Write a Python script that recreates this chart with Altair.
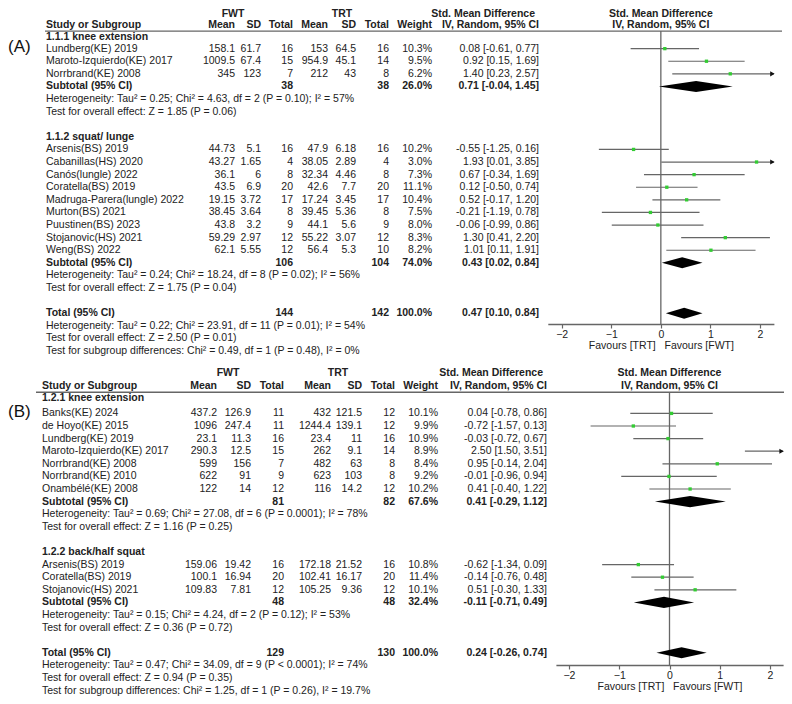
import altair as alt
import pandas as pd

FONT = "Liberation Sans"
FS = 10.5
TXT = "#222222"
LINE = "#666666"
GREEN = "#33cc33"

# ---------------- Panel A data ----------------
A1_label = "1.1.1 knee extension"
A1_study = ["Lundberg(KE) 2019", "Maroto-Izquierdo(KE) 2017", "Norrbrand(KE) 2008"]
A1_fwt_mean = [158.1, 1009.5, 345]
A1_fwt_sd = [61.7, 67.4, 123]
A1_fwt_n = [16, 15, 7]
A1_trt_mean = [153, 954.9, 212]
A1_trt_sd = [64.5, 45.1, 43]
A1_trt_n = [16, 14, 8]
A1_weight = [10.3, 9.5, 6.2]
A1_smd = [0.08, 0.92, 1.40]
A1_lo = [-0.61, 0.15, 0.23]
A1_hi = [0.77, 1.69, 2.57]

A2_label = "1.1.2 squat/ lunge"
A2_study = ["Arsenis(BS) 2019", "Cabanillas(HS) 2020", "Canós(lungle) 2022", "Coratella(BS) 2019",
            "Madruga-Parera(lungle) 2022", "Murton(BS) 2021", "Puustinen(BS) 2023",
            "Stojanovic(HS) 2021", "Weng(BS) 2022"]
A2_fwt_mean = [44.73, 43.27, 36.1, 43.5, 19.15, 38.45, 43.8, 59.29, 62.1]
A2_fwt_sd = [5.1, 1.65, 6, 6.9, 3.72, 3.64, 3.2, 2.97, 5.55]
A2_fwt_n = [16, 4, 8, 20, 17, 8, 9, 12, 12]
A2_trt_mean = [47.9, 38.05, 32.34, 42.6, 17.24, 39.45, 44.1, 55.22, 56.4]
A2_trt_sd = [6.18, 2.89, 4.46, 7.7, 3.45, 5.36, 5.6, 3.07, 5.3]
A2_trt_n = [16, 4, 8, 20, 17, 8, 9, 12, 10]
A2_weight = [10.2, 3.0, 7.3, 11.1, 10.4, 7.5, 8.0, 8.3, 8.2]
A2_smd = [-0.55, 1.93, 0.67, 0.12, 0.52, -0.21, -0.06, 1.30, 1.01]
A2_lo = [-1.25, 0.01, -0.34, -0.50, -0.17, -1.19, -0.99, 0.41, 0.11]
A2_hi = [0.16, 3.85, 1.69, 0.74, 1.20, 0.78, 0.86, 2.20, 1.91]

A_sub_fwt_n = [38, 106]
A_sub_trt_n = [38, 104]
A_sub_weight = [26.0, 74.0]
A_sub_smd = [0.71, 0.43]
A_sub_lo = [-0.04, 0.02]
A_sub_hi = [1.45, 0.84]
A_sub_het = ["Heterogeneity: Tau² = 0.25; Chi² = 4.63, df = 2 (P = 0.10); I² = 57%",
             "Heterogeneity: Tau² = 0.24; Chi² = 18.24, df = 8 (P = 0.02); I² = 56%"]
A_sub_z = ["Test for overall effect: Z = 1.85 (P = 0.06)",
           "Test for overall effect: Z = 1.75 (P = 0.04)"]
A_tot_n = [144, 142]
A_tot_smd = [0.47, 0.10, 0.84]
A_tot_notes = ["Heterogeneity: Tau² = 0.22; Chi² = 23.91, df = 11 (P = 0.01); I² = 54%",
               "Test for overall effect: Z = 2.50 (P = 0.01)",
               "Test for subgroup differences: Chi² = 0.49, df = 1 (P = 0.48), I² = 0%"]

# ---------------- Panel B data ----------------
B1_label = "1.2.1 knee extension"
B1_study = ["Banks(KE) 2024", "de Hoyo(KE) 2015", "Lundberg(KE) 2019", "Maroto-Izquierdo(KE) 2017",
            "Norrbrand(KE) 2008", "Norrbrand(KE) 2010", "Onambélé(KE) 2008"]
B1_fwt_mean = [437.2, 1096, 23.1, 290.3, 599, 622, 122]
B1_fwt_sd = [126.9, 247.4, 11.3, 12.5, 156, 91, 14]
B1_fwt_n = [11, 11, 16, 15, 7, 9, 12]
B1_trt_mean = [432, 1244.4, 23.4, 262, 482, 623, 116]
B1_trt_sd = [121.5, 139.1, 11, 9.1, 63, 103, 14.2]
B1_trt_n = [12, 12, 16, 14, 8, 8, 12]
B1_weight = [10.1, 9.9, 10.9, 8.9, 8.4, 9.2, 10.2]
B1_smd = [0.04, -0.72, -0.03, 2.50, 0.95, -0.01, 0.41]
B1_lo = [-0.78, -1.57, -0.72, 1.50, -0.14, -0.96, -0.40]
B1_hi = [0.86, 0.13, 0.67, 3.51, 2.04, 0.94, 1.22]

B2_label = "1.2.2 back/half squat"
B2_study = ["Arsenis(BS) 2019", "Coratella(BS) 2019", "Stojanovic(HS) 2021"]
B2_fwt_mean = [159.06, 100.1, 109.83]
B2_fwt_sd = [19.42, 16.94, 7.81]
B2_fwt_n = [16, 20, 12]
B2_trt_mean = [172.18, 102.41, 105.25]
B2_trt_sd = [21.52, 16.17, 9.36]
B2_trt_n = [16, 20, 12]
B2_weight = [10.8, 11.4, 10.1]
B2_smd = [-0.62, -0.14, 0.51]
B2_lo = [-1.34, -0.76, -0.30]
B2_hi = [0.09, 0.48, 1.33]

B_sub_fwt_n = [81, 48]
B_sub_trt_n = [82, 48]
B_sub_weight = [67.6, 32.4]
B_sub_smd = [0.41, -0.11]
B_sub_lo = [-0.29, -0.71]
B_sub_hi = [1.12, 0.49]
B_sub_het = ["Heterogeneity: Tau² = 0.69; Chi² = 27.08, df = 6 (P = 0.0001); I² = 78%",
             "Heterogeneity: Tau² = 0.15; Chi² = 4.24, df = 2 (P = 0.12); I² = 53%"]
B_sub_z = ["Test for overall effect: Z = 1.16 (P = 0.25)",
           "Test for overall effect: Z = 0.36 (P = 0.72)"]
B_tot_n = [129, 130]
B_tot_smd = [0.24, -0.26, 0.74]
B_tot_notes = ["Heterogeneity: Tau² = 0.47; Chi² = 34.09, df = 9 (P < 0.0001); I² = 74%",
               "Test for overall effect: Z = 0.94 (P = 0.35)",
               "Test for subgroup differences: Chi² = 1.25, df = 1 (P = 0.26), I² = 19.7%"]

TICKS = [-2, -1, 0, 1, 2]

# ---------------- helpers ----------------
COLS = ["name", "fm", "fs", "fn", "tm", "ts", "tn", "w", "ci",
        "fwt_hdr", "trt_hdr", "ci_hdr", "plot_hdr"]


def ci_text(e, l, h):
    return f"{e:.2f} [{l:.2f}, {h:.2f}]"


def blank_row(r, bold):
    d = {c: "" for c in COLS}
    d["row"] = r
    d["bold"] = bold
    return d


def build_panel(groups, subs, tot, offset, hdr):
    hdr1_r, hdr2_r, _line_r, head_r = hdr
    rows, studies, diam = [], [], []
    h1 = blank_row(offset + hdr1_r, True)
    h1.update(fwt_hdr="FWT", trt_hdr="TRT", ci_hdr="Std. Mean Difference", plot_hdr="Std. Mean Difference")
    h2 = blank_row(offset + hdr2_r, True)
    h2.update(name="Study or Subgroup", fm="Mean", fs="SD", fn="Total", tm="Mean", ts="SD",
              tn="Total", w="Weight", ci="IV, Random, 95% CI", plot_hdr="IV, Random, 95% CI")
    rows += [h1, h2]

    def add_diamond(r, e, l, h, key):
        for x, dy in ((l, 0.0), (e, 0.44), (h, 0.0)):
            diam.append(dict(g=key, x=x, y=r - dy, y2=r + dy))

    r = 3
    for gi, g in enumerate(groups):
        hr = blank_row(offset + (head_r if gi == 0 else r - 1), True)
        hr["name"] = g["label"]
        rows.append(hr)
        for i in range(len(g["study"])):
            d = blank_row(offset + r, False)
            d.update(name=g["study"][i], fm=str(g["fm"][i]), fs=str(g["fs"][i]), fn=str(g["fn"][i]),
                     tm=str(g["tm"][i]), ts=str(g["ts"][i]), tn=str(g["tn"][i]),
                     w=f"{g['w'][i]:.1f}%", ci=ci_text(g["smd"][i], g["lo"][i], g["hi"][i]))
            rows.append(d)
            studies.append(dict(row=offset + r, smd=g["smd"][i], lo=g["lo"][i], hi=g["hi"][i]))
            r += 1
        d = blank_row(offset + r, True)
        d.update(name="Subtotal (95% CI)", fn=str(subs["fn"][gi]), tn=str(subs["tn"][gi]),
                 w=f"{subs['w'][gi]:.1f}%", ci=ci_text(subs["smd"][gi], subs["lo"][gi], subs["hi"][gi]))
        rows.append(d)
        add_diamond(offset + r, subs["smd"][gi], subs["lo"][gi], subs["hi"][gi], f"s{gi}")
        for k, t in enumerate((subs["het"][gi], subs["z"][gi])):
            d = blank_row(offset + r + 1 + k, False)
            d["name"] = t
            rows.append(d)
        r += 5
    r -= 1
    d = blank_row(offset + r, True)
    d.update(name="Total (95% CI)", fn=str(tot["n"][0]), tn=str(tot["n"][1]), w="100.0%",
             ci=ci_text(*tot["smd"]))
    rows.append(d)
    add_diamond(offset + r, tot["smd"][0], tot["smd"][1], tot["smd"][2], "t")
    for k, t in enumerate(tot["notes"]):
        d = blank_row(offset + r + 1 + k, False)
        d["name"] = t
        rows.append(d)
    return pd.DataFrame(rows), pd.DataFrame(studies), pd.DataFrame(diam)


def grp(label, study, fm, fs, fn, tm, ts, tn, w, smd, lo, hi):
    return dict(label=label, study=study, fm=fm, fs=fs, fn=fn, tm=tm, ts=ts, tn=tn, w=w,
                smd=smd, lo=lo, hi=hi)


A_groups = [grp(A1_label, A1_study, A1_fwt_mean, A1_fwt_sd, A1_fwt_n, A1_trt_mean, A1_trt_sd, A1_trt_n,
                A1_weight, A1_smd, A1_lo, A1_hi),
            grp(A2_label, A2_study, A2_fwt_mean, A2_fwt_sd, A2_fwt_n, A2_trt_mean, A2_trt_sd, A2_trt_n,
                A2_weight, A2_smd, A2_lo, A2_hi)]
A_subs = dict(fn=A_sub_fwt_n, tn=A_sub_trt_n, w=A_sub_weight, smd=A_sub_smd, lo=A_sub_lo, hi=A_sub_hi,
              het=A_sub_het, z=A_sub_z)
A_tot = dict(n=A_tot_n, smd=A_tot_smd, notes=A_tot_notes)

B_groups = [grp(B1_label, B1_study, B1_fwt_mean, B1_fwt_sd, B1_fwt_n, B1_trt_mean, B1_trt_sd, B1_trt_n,
                B1_weight, B1_smd, B1_lo, B1_hi),
            grp(B2_label, B2_study, B2_fwt_mean, B2_fwt_sd, B2_fwt_n, B2_trt_mean, B2_trt_sd, B2_trt_n,
                B2_weight, B2_smd, B2_lo, B2_hi)]
B_subs = dict(fn=B_sub_fwt_n, tn=B_sub_trt_n, w=B_sub_weight, smd=B_sub_smd, lo=B_sub_lo, hi=B_sub_hi,
              het=B_sub_het, z=B_sub_z)
B_tot = dict(n=B_tot_n, smd=B_tot_smd, notes=B_tot_notes)

A_OFF, B_OFF = 0.05, 29.0
A_HDR = (0.23, 1.15, 1.61, 2.07)   # header row 1, header row 2, rule, first heading
B_HDR = (-0.2, 0.85, 1.32, 1.8)
A_rows, A_st, A_dia = build_panel(A_groups, A_subs, A_tot, A_OFF, A_HDR)
B_rows, B_st, B_dia = build_panel(B_groups, B_subs, B_tot, B_OFF, B_HDR)

# ---------------- layout ----------------
W, H = 776, 688
SP = 12.6
Y0 = 3 - 40 / SP
Y1 = 3 + (H - 40) / SP
YS = alt.Scale(domain=[Y0, Y1], range=[0, H], nice=False, zero=False)


def Y(f="row"):
    return alt.Y(f"{f}:Q", scale=YS, axis=None)


def text_layers(df, pos):
    layers = []
    for col, (x, align) in pos.items():
        for bold in (False, True):
            sub = df[(df["bold"] == bold) & (df[col] != "")][["row", col]]
            if sub.empty:
                continue
            layers.append(
                alt.Chart(sub).mark_text(align=align, baseline="middle", font=FONT, fontSize=FS,
                                         color=TXT, fontWeight="bold" if bold else "normal")
                .encode(x=alt.value(x), y=Y(), text=f"{col}:N")
            )
    return layers


A_pos = {"name": (38, "left"), "fm": (227, "right"), "fs": (253, "right"), "fn": (285, "right"),
         "tm": (320, "right"), "ts": (348, "right"), "tn": (381, "right"), "w": (424, "right"),
         "ci": (531, "right"), "fwt_hdr": (225, "center"), "trt_hdr": (334, "center"),
         "ci_hdr": (527, "right"), "plot_hdr": (652.8, "center")}
B_pos = {"name": (34, "left"), "fm": (209, "right"), "fs": (243, "right"), "fn": (276, "right"),
         "tm": (323, "right"), "ts": (354, "right"), "tn": (387, "right"), "w": (430, "right"),
         "ci": (539, "right"), "fwt_hdr": (220, "center"), "trt_hdr": (330, "center"),
         "ci_hdr": (535, "right"), "plot_hdr": (661.5, "center")}


def panel_label(lbl, r):
    return alt.Chart(pd.DataFrame({"row": [r], "t": [lbl]})).mark_text(
        align="left", baseline="middle", font=FONT, fontSize=17, color="#111"
    ).encode(x=alt.value(0), y=Y(), text="t:N")


def header_line(r, x0, x1):
    return alt.Chart(pd.DataFrame({"row": [r]})).mark_rule(color=LINE, strokeWidth=1.3).encode(
        x=alt.value(x0), x2=alt.value(x1), y=Y()
    )


def forest(st, dia, xlim, rng, axis_px, top_row):
    XS = alt.Scale(domain=[-xlim, xlim], range=rng, nice=False, zero=False)
    AX = alt.Axis(values=TICKS, orient="bottom", offset=axis_px - H, grid=False,
                  title="Favours [TRT]\u00a0\u00a0 Favours [FWT]", titleFont=FONT, titleFontSize=FS,
                  titleFontWeight="normal", titleColor=TXT, titlePadding=1,
                  labelFont=FONT, labelFontSize=FS, labelColor=TXT, labelPadding=1, labelFlush=False,
                  tickSize=4, tickColor=LINE, domainColor=LINE, domainWidth=1.3, tickWidth=1.2)

    def X(f):
        return alt.X(f"{f}:Q", scale=XS, axis=AX)

    zero = alt.Chart(pd.DataFrame({"x": [0.0], "row": [top_row]})).mark_rule(
        color=LINE, strokeWidth=1.3).encode(x=X("x"), y=Y(), y2=alt.value(axis_px))
    ci = alt.Chart(st).transform_calculate(
        lo_c=f"max(datum.lo, {-xlim})", hi_c=f"min(datum.hi, {xlim})"
    ).mark_rule(color=LINE, strokeWidth=1.2).encode(x=X("lo_c"), x2=alt.X2("hi_c"), y=Y())
    arrow = alt.Chart(st).transform_filter(f"datum.hi > {xlim}").transform_calculate(
        xa=f"{xlim - 0.03}"
    ).mark_point(shape="triangle-right", filled=True, size=26, color="#111", opacity=1).encode(
        x=X("xa"), y=Y())
    sq = alt.Chart(st).mark_square(size=11, color=GREEN, opacity=1).encode(x=X("smd"), y=Y())
    di = alt.Chart(dia).mark_area(color="#000000", orient="vertical", opacity=1).encode(
        x=X("x"), y=Y("y"), y2=alt.Y2("y2:Q"), detail="g:N")
    return alt.layer(zero, ci, arrow, sq, di)


layers = []
layers += text_layers(A_rows, A_pos)
layers += text_layers(B_rows, B_pos)
layers += [panel_label("(A)", A_OFF + 2.9), panel_label("(B)", B_OFF + 2.9),
           header_line(A_OFF + A_HDR[2], 37, 774), header_line(B_OFF + B_HDR[2], 28, 776)]

fA = forest(A_st, A_dia, 2.28, [539.8, 765.9], 316, A_OFF + A_HDR[2])
fB = forest(B_st, B_dia, 2.26, [547.9, 775.1], 657, B_OFF + B_HDR[2])

chart = alt.layer(*layers, fA, fB).resolve_scale(x="independent").properties(
    width=W, height=H, padding=0, autosize=alt.AutoSizeParams(type="none")
).configure_view(stroke=None)

chart.save("out.html", embed_options={"renderer": "svg", "actions": False})
